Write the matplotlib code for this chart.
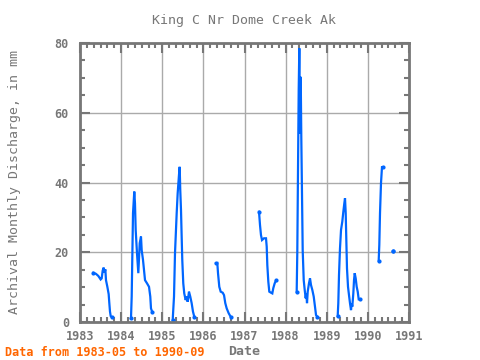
import matplotlib
matplotlib.use("Agg")
import matplotlib.pyplot as plt
import numpy as np
from matplotlib.ticker import MultipleLocator

# discharge traces, one list pair per run of data (decimal year, mm)
yr1 = [1983.324, 1983.389, 1983.446, 1983.502, 1983.527, 1983.551, 1983.575, 1983.600,
       1983.616, 1983.632, 1983.665, 1983.697, 1983.713, 1983.729, 1983.746, 1983.778]
q1 = [14.1, 13.8, 13.2, 12.2, 12.5, 14.7, 15.6, 14.2, 15.1, 12.0, 10.1, 8.0, 5.4, 3.0, 1.7, 1.3]

yr2 = [1984.240, 1984.257, 1984.289, 1984.320, 1984.337, 1984.354, 1984.386, 1984.418,
       1984.452, 1984.483, 1984.500, 1984.532, 1984.581, 1984.629, 1984.678, 1984.709,
       1984.726, 1984.758]
q2 = [1.1, 7.3, 31.2, 37.4, 34.0, 26.4, 19.7, 14.0, 22.6, 24.5, 20.6, 17.8, 12.0, 11.1,
      10.1, 7.3, 3.9, 2.8]

yr3 = [1985.254, 1985.286, 1985.310, 1985.351, 1985.375, 1985.407, 1985.424, 1985.438,
       1985.456, 1985.472, 1985.487, 1985.511, 1985.535, 1985.569, 1985.594, 1985.618,
       1985.650, 1985.681, 1985.715, 1985.747, 1985.779]
q3 = [0.6, 7.3, 19.7, 31.2, 36.9, 42.2, 44.5, 37.8, 32.1, 24.5, 17.8, 11.1, 8.2, 6.3, 7.3,
      5.8, 8.7, 7.3, 5.4, 3.0, 1.5]

yr4 = [1986.307, 1986.339, 1986.356, 1986.387, 1986.421, 1986.470, 1986.502, 1986.533,
       1986.567, 1986.616, 1986.664]
q4 = [16.8, 16.9, 14.0, 10.1, 8.7, 8.4, 7.7, 5.4, 3.9, 2.5, 1.5]

yr5 = [1987.353, 1987.377, 1987.401, 1987.426, 1987.474, 1987.523, 1987.540, 1987.555,
       1987.579, 1987.603, 1987.644, 1987.676, 1987.700, 1987.734, 1987.766]
q5 = [31.6, 27.8, 24.9, 23.5, 24.0, 24.0, 21.6, 16.3, 11.6, 8.7, 8.4, 8.2, 9.7, 11.1, 11.9]

yr6 = [1988.269, 1988.284, 1988.301, 1988.318, 1988.333, 1988.350, 1988.367, 1988.381,
       1988.398, 1988.415, 1988.440, 1988.464, 1988.488, 1988.503, 1988.520, 1988.537,
       1988.568, 1988.593, 1988.617, 1988.649, 1988.683, 1988.714, 1988.739, 1988.770]
q6 = [8.7, 20.2, 43.6, 66.5, 78.5, 54.1, 70.3, 53.1, 36.9, 20.6, 12.0, 9.2, 6.8, 8.2, 5.4,
      8.7, 11.1, 12.5, 10.6, 9.2, 7.3, 4.4, 2.0, 1.5]

yr7 = [1989.266, 1989.281, 1989.298, 1989.322, 1989.347, 1989.378, 1989.403, 1989.427,
       1989.444, 1989.461, 1989.476, 1989.492, 1989.517, 1989.541, 1989.565, 1989.590,
       1989.607, 1989.621, 1989.646, 1989.663, 1989.680, 1989.704, 1989.728, 1989.753,
       1989.777, 1989.801]
q7 = [1.7, 5.4, 13.5, 21.1, 26.4, 28.8, 31.6, 34.0, 35.5, 31.2, 23.5, 15.4, 10.1, 7.7, 5.4,
      3.4, 5.4, 4.4, 8.2, 12.0, 14.0, 12.5, 10.1, 8.7, 6.5, 6.5]

yr8 = [1990.263, 1990.278, 1990.295, 1990.319, 1990.343, 1990.361]
q8 = [17.6, 22.1, 31.2, 39.8, 44.4, 44.4]

yr9 = [1990.604]
q9 = [20.4]

segments = [(yr1, q1), (yr2, q2), (yr3, q3), (yr4, q4), (yr5, q5),
            (yr6, q6), (yr7, q7), (yr8, q8), (yr9, q9)]

year_ticks = list(range(1983, 1992))
q_ticks = [0, 20, 40, 60, 80]

gray = "#777777"
blue = "#0066ff"
plt.rcParams['font.family'] = ['DejaVu Sans Mono']

fig = plt.figure(figsize=(4.8, 3.6), dpi=100)
ax = fig.add_axes([80/480, 38/360, 329/480, 279/360])

for x, y in segments:
    ax.plot(x, y, color=blue, lw=1.6, solid_joinstyle='miter')
    ax.plot([x[0], x[-1]], [y[0], y[-1]], ls='none', marker='o', ms=2, color=blue)

ax.set_xlim(1983, 1991)
ax.set_ylim(0, 80)
ax.set_xticks(year_ticks)
ax.set_yticks(q_ticks)
ax.xaxis.set_minor_locator(MultipleLocator(1/6))
ax.yaxis.set_minor_locator(MultipleLocator(5))
ax.grid(True, which='major', color='#aaaaaa', lw=1)
ax.set_axisbelow(True)
ax.tick_params(which='both', direction='in', top=True, right=True, color=gray,
               labelcolor=gray, labelsize=8.5, width=1.5)
ax.tick_params(which='major', length=7)
ax.tick_params(which='minor', length=3.5)
ax.tick_params(axis='x', which='major', pad=6)
ax.tick_params(axis='y', which='major', pad=8)
for lbl in ax.get_xticklabels() + ax.get_yticklabels():
    lbl.set_fontweight('bold')
for s in ax.spines.values():
    s.set_color(gray)
    s.set_linewidth(2)

ax.set_title("King C Nr Dome Creek Ak", color=gray, fontsize=9.5, pad=14)
ax.set_xlabel("Date", color=gray, fontsize=9.5, fontweight='bold', labelpad=1)
ax.set_ylabel("Archival Monthly Discharge, in mm", color=gray, fontsize=9.5, labelpad=24)
fig.text(5/480, 1 - 352/360, "Data from 1983-05 to 1990-09", color="#ff6600",
         fontsize=8.5, fontweight='bold', va='center', ha='left')

fig.savefig("out.png", dpi=100)
